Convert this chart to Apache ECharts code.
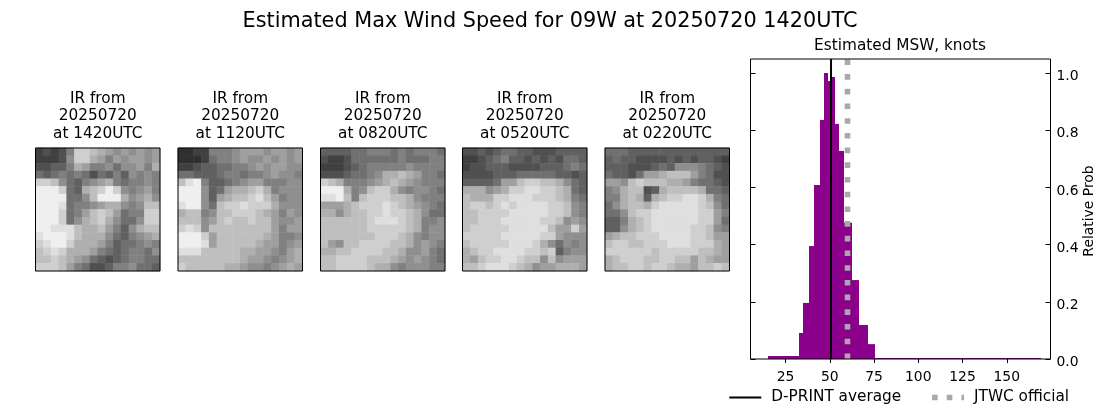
<!DOCTYPE html>
<html>
<head>
<meta charset="utf-8">
<title>Estimated Max Wind Speed</title>
<script src="https://cdn.jsdelivr.net/npm/echarts@6/dist/echarts.min.js"></script>
<style>
  html, body { margin: 0; padding: 0; background: #fff; }
  #chart { width: 1100px; height: 409px; }
</style>
</head>
<body>
<div id="chart"></div>
<script>
// histogram bins, knots (edges are uneven in the source)
const binEdges = [15.1, 32.6, 34.9, 38.3, 41.1, 44.5, 46.8, 49, 51.3, 53, 55.2, 58.1, 62.6, 66.5, 71.6, 75.6, 169.3];
const binProb = [0.0105, 0.091, 0.196, 0.395, 0.608, 0.836, 1.0, 0.972, 0.986, 0.822, 0.727, 0.476, 0.276, 0.119, 0.052, 0.0035];
const dprintAverage = 50.7;
const jtwcOfficial = 60;
const xTicks = [25, 50, 75, 100, 125, 150];
const yTicks = [0, 0.2, 0.4, 0.6, 0.8, 1.0];

const panelTimes = ['1420UTC', '1120UTC', '0820UTC', '0520UTC', '0220UTC'];

// IR thumbnails, one hex digit of brightness per cell, read by eye
const ir1420 = [
  '45458ddcba9a9a9a', '44459ddba8a9aa9a', '55668ba889799a8b', '7678787576869898',
  'ddc97689ab878898', 'fffd76bcdfd989a8', 'ffff779cfffb9ab9', 'fffe7889abb989cc',
  'fffd78acdca788dd', 'fffd79bcdb9779dd', 'ffeeecbbca869bcc', 'efffecbbb97689ab',
  'deffdbbba8677898', 'cdedbbba87678879', 'ccdcba9765678877', 'dddca87556889776'
];
const ir1120 = [
  '33448889aaa9aa9a', '33347889a99a9a9a', '4456677889a9aa99', '776667887889a998',
  'cef866789aa88899', 'fff967abbcdb8999', 'fff96abccdeca899', 'eff97cddedddb999',
  'bcc89ccdddcba8a9', 'ccc9acdccdcca99a', 'ded9cccccccca8aa', 'fffdaccccccba889',
  'fffeacccccbaa89a', 'eeecccccbbaa98ab', 'ccccccccbaa989ab', 'dcccccbba9989aba'
];
const ir0820 = [
  '6666778887878887', '5445777777877788', '4445678888898888', '55567789bbcba887',
  'dcb8889abcba9888', 'fffb89cddb989987', 'eefc8cdddccb9888', 'aaabcdddedcba987',
  'bb9bccddeddcb977', 'ccccccdeeedcb889', 'ccccccdddddcb899', 'cccccccdddcb9899',
  'ca9ccddddccb9a98', 'bbccddddccb99a87', 'ccddddcccba9a987', 'ccddddcbb9899988'
];
const ir0520 = [
  '5565677665556666', '4456786656565776', '4556665555666787', '5555666777776656',
  '66667aacddccb976', 'bbb9abddeeddcb76', 'cbbbddeeedddcb87', 'cddcdedeeeeddc98',
  'ccddddeeeeeddc98', 'ccdddeeeeeddc9a9', 'cdddddeeeeecaada', 'dddddeeeeedda999',
  'cdddddeeedb97989', 'bcddeeeeddcd6899', 'bacddeedcc9c9aaa', 'ccdeeedcb9aabbba'
];
const ir0220 = [
  '7776666666666666', '6766555565656654', '6665556769998765', '76657aabccca8755',
  'aa9cdcccbba87765', '89bcc56bccccb776', '88bcb6bcddeedb87', '79bccbdeeeeedc97',
  '779cddeeeeeedda8', '668bcdeeeeeedda7', '669bcdeeeeeddc98', 'abccdddeeeeddcaa',
  'cddccdddeeedddba', 'ddddddcdddddccba', 'bcdddccddccacbaa', 'bccddcddcbbaccdc'
];
const panelCells = [ir1420, ir1120, ir0820, ir0520, ir0220];

const panelLeft = [35.5, 178, 320.5, 462.5, 605];
const panelTop = 148;
const panelWidth = 124.5;
const panelHeight = 123;
const fontFamily = '"DejaVu Sans"';

function cellsToData(rows) {
  const out = [];
  rows.forEach((row, r) => {
    row.split('').forEach((ch, c) => out.push([c, r, parseInt(ch, 16)]));
  });
  return out;
}

const idx = [...Array(16).keys()];
const titles = [{
  text: 'Estimated Max Wind Speed for 09W at 20250720 1420UTC',
  left: 545, top: 6, textAlign: 'center',
  textStyle: { fontFamily, fontSize: 20.8, fontWeight: 'normal', color: '#000' }
}, {
  text: 'Estimated MSW, knots',
  left: 895, top: 34, textAlign: 'center',
  textStyle: { fontFamily, fontSize: 15.3, fontWeight: 'normal', color: '#000' }
}];
const grids = [], xAxes = [], yAxes = [], series = [];

panelCells.forEach((rows, i) => {
  titles.push({
    text: 'IR from\n20250720\nat ' + panelTimes[i],
    left: panelLeft[i] + panelWidth / 2 - 5, top: 85, textAlign: 'center',
    textStyle: { fontFamily, fontSize: 15.3, fontWeight: 'normal', color: '#000', lineHeight: 17.6, align: 'center' }
  });
  grids.push({
    left: panelLeft[i], top: panelTop, width: panelWidth, height: panelHeight,
    show: true, z: 5, borderColor: '#000', borderWidth: 1, backgroundColor: 'transparent'
  });
  xAxes.push({ gridIndex: i, type: 'category', data: idx, show: false });
  yAxes.push({ gridIndex: i, type: 'category', data: idx, inverse: true, show: false });
  series.push({
    type: 'heatmap', xAxisIndex: i, yAxisIndex: i, data: cellsToData(rows),
    silent: true, animation: false, emphasis: { disabled: true }
  });
});

// histogram panel
grids.push({
  left: 750.5, top: 59, width: 300, height: 300,
  show: true, z: 5, borderColor: '#000', borderWidth: 1, backgroundColor: 'transparent'
});
xAxes.push({
  gridIndex: 5, type: 'value', min: 5.2, max: 174.7,
  splitLine: { show: false },
  axisLine: { show: false },
  axisTick: { show: true, length: 4, customValues: xTicks, lineStyle: { color: '#000' } },
  axisLabel: { customValues: xTicks, margin: 11, fontFamily, fontSize: 13.9, color: '#000' }
});
yAxes.push({
  gridIndex: 5, type: 'value', min: 0, max: 1.049, position: 'right',
  name: 'Relative Prob', nameLocation: 'middle', nameGap: 32, nameRotate: 90,
  nameTextStyle: { fontFamily, fontSize: 13.9, color: '#000', padding: [0, 4, 0, 0] },
  splitLine: { show: false },
  axisLine: { show: false },
  axisTick: { show: true, inside: true, length: 5, customValues: yTicks, lineStyle: { color: '#000' } },
  axisLabel: { customValues: yTicks, margin: 6, verticalAlign: 'top', lineHeight: 7, fontFamily, fontSize: 13.9, color: '#000',
    formatter: v => v.toFixed(1) }
});
// same scale again, only for the inward ticks on the left spine
yAxes.push({
  gridIndex: 5, type: 'value', min: 0, max: 1.049, position: 'left',
  splitLine: { show: false },
  axisLine: { show: false },
  axisLabel: { show: false },
  axisTick: { show: true, inside: true, length: 5, customValues: yTicks, lineStyle: { color: '#000' } }
});
series.push({
  type: 'custom', xAxisIndex: 5, yAxisIndex: 5, silent: true, animation: false,
  data: binProb.map((p, i) => [binEdges[i], binEdges[i + 1], p]),
  encode: { x: [0, 1], y: 2 },
  renderItem: (params, api) => {
    const a = api.coord([api.value(0), api.value(2)]);
    const b = api.coord([api.value(1), 0]);
    const x0 = Math.round(a[0]), x1 = Math.round(b[0]);
    return { type: 'rect', shape: { x: x0, y: a[1], width: x1 - x0, height: b[1] - a[1] },
      style: { fill: '#8b008b' } };
  }
});
series.push({
  name: 'D-PRINT average', type: 'line', xAxisIndex: 5, yAxisIndex: 5, z: 4,
  data: [[dprintAverage, 0], [dprintAverage, 1.049]], symbol: 'none', silent: true, animation: false,
  lineStyle: { color: '#000', width: 2 }
});
series.push({
  name: 'JTWC official', type: 'line', xAxisIndex: 5, yAxisIndex: 5, z: 3,
  data: [[jtwcOfficial, 0], [jtwcOfficial, 1.049]], symbol: 'none', silent: true, animation: false,
  lineStyle: { color: '#a9a9a9', width: 5.6, type: [5.6, 9.1] }
});

const chart = echarts.init(document.getElementById('chart'), null, { renderer: 'canvas' });
chart.setOption({
  animation: false,
  backgroundColor: '#fff',
  title: titles,
  grid: grids,
  xAxis: xAxes,
  yAxis: yAxes,
  visualMap: {
    show: false, min: 0, max: 16, seriesIndex: [0, 1, 2, 3, 4],
    inRange: { color: ['#000000', '#ffffff'] }
  },
  legend: {
    right: 26, top: 385, itemWidth: 32, itemHeight: 14, itemGap: 28,
    itemStyle: { opacity: 0 },
    data: [
      { name: 'D-PRINT average', lineStyle: { width: 2 } },
      { name: 'JTWC official', lineStyle: { width: 5.6, type: [5.6, 9.1] } }
    ],
    textStyle: { fontFamily, fontSize: 15.3, color: '#000', padding: [0, 0, 0, 5] }
  },
  series
});
</script>
</body>
</html>
